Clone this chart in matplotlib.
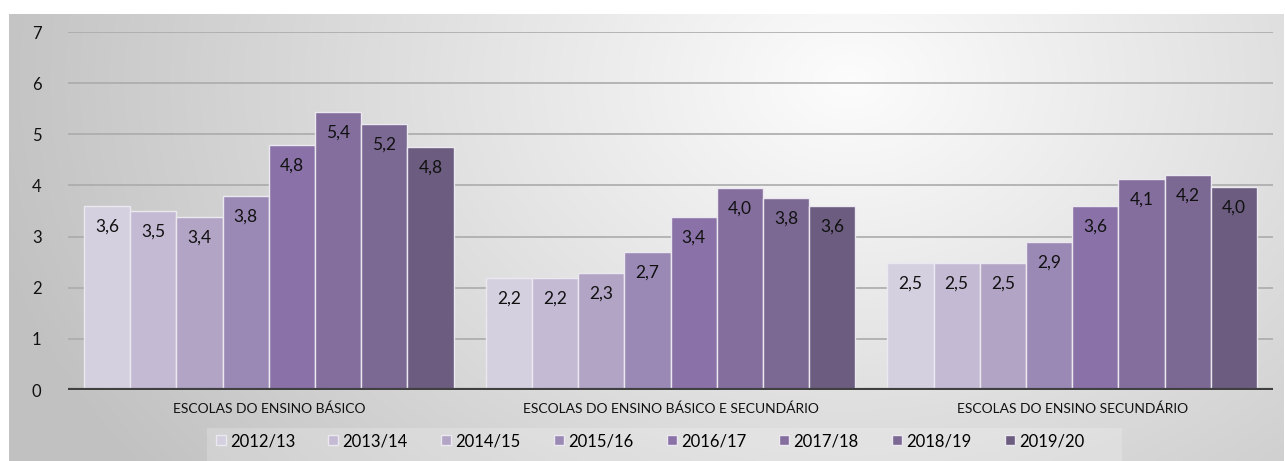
import matplotlib
matplotlib.use("Agg")
import matplotlib.pyplot as plt
import numpy as np

plt.rcParams["font.family"] = ["Lato", "DejaVu Sans"]

categories = ["ESCOLAS DO ENSINO BÁSICO",
              "ESCOLAS DO ENSINO BÁSICO E SECUNDÁRIO",
              "ESCOLAS DO ENSINO SECUNDÁRIO"]
years = ["2012/13", "2013/14", "2014/15", "2015/16",
         "2016/17", "2017/18", "2018/19", "2019/20"]

# values per year: [basico, basico e secundario, secundario]
v_2012 = [3.60, 2.19, 2.48]
v_2013 = [3.50, 2.19, 2.48]
v_2014 = [3.39, 2.28, 2.48]
v_2015 = [3.79, 2.69, 2.89]
v_2016 = [4.79, 3.39, 3.59]
v_2017 = [5.43, 3.95, 4.12]
v_2018 = [5.20, 3.76, 4.20]
v_2019 = [4.75, 3.60, 3.97]
values = [v_2012, v_2013, v_2014, v_2015, v_2016, v_2017, v_2018, v_2019]

colors = ["#d5d0df", "#c4bad4", "#b2a4c4", "#9b89b5",
          "#8a72a8", "#836e9e", "#7b6893", "#6b5c80"]

W, H = 1285, 461
fig = plt.figure(figsize=(W / 100, H / 100), dpi=100)
fig.patch.set_facecolor("white")

# gradient background panel
bg = fig.add_axes([9 / W, 0, 1 - 10 / W, 1 - 14 / H], zorder=-2)
nx, ny = 400, 150
xx, yy = np.meshgrid(np.linspace(0, 1, nx), np.linspace(0, 1, ny))
d = np.sqrt(((xx - 0.66) / 0.75) ** 2 + ((yy - 0.15) / 1.6) ** 2)
g = np.clip(0.99 - 0.25 * d, 0.76, 1.0)
bg.imshow(np.dstack([g, g, g]), aspect="auto", extent=(0, 1, 0, 1),
          origin="upper", interpolation="bilinear")
bg.set_axis_off()

ax = fig.add_axes([68 / W, (H - 390) / H, (1273 - 68) / W, (390 - 32) / H])
ax.set_facecolor("none")

x = np.arange(len(categories))
n = len(years)
group_w = 0.92
bw = group_w / n
for i, (yr, vals) in enumerate(zip(years, values)):
    pos = x - group_w / 2 + bw * (i + 0.5)
    bars = ax.bar(pos, vals, bw, color=colors[i], edgecolor="#ebe8f0",
                  linewidth=1, label=yr, zorder=3)
    for b, v in zip(bars, vals):
        ax.annotate(f"{v:.1f}".replace(".", ","),
                    (b.get_x() + b.get_width() / 2, v),
                    xytext=(0, -9), textcoords="offset points",
                    ha="center", va="top", fontsize=12.5, color="#111111",
                    zorder=4)

ax.set_ylim(0, 7)
ax.set_xlim(-0.5, len(categories) - 0.5)
ax.set_yticks(range(0, 8))
ax.yaxis.grid(True, color="#ababab", linewidth=1.2, zorder=0)
ax.set_axisbelow(True)
for s in ax.spines.values():
    s.set_visible(False)
ax.axhline(0, color="#404040", linewidth=3, zorder=5)
ax.tick_params(axis="y", length=0, pad=19, labelsize=12, colors="#111111")
ax.tick_params(axis="x", length=0, pad=9, labelsize=10, colors="#111111")
ax.set_xticks(x)
ax.set_xticklabels(categories)

# light box behind legend
fig.patches.append(plt.Rectangle((207 / W, 0), (1122 - 207) / W, 33 / H,
                                 transform=fig.transFigure,
                                 facecolor="white", alpha=0.2,
                                 edgecolor="none", zorder=-1))

lg = fig.legend(loc="center", bbox_to_anchor=(650 / W, (H - 441) / H),
                ncol=8, frameon=False, fontsize=12, handlelength=0.6,
                handleheight=0.6, handletextpad=0.25, columnspacing=2.0)

fig.savefig("out.png", dpi=100)
